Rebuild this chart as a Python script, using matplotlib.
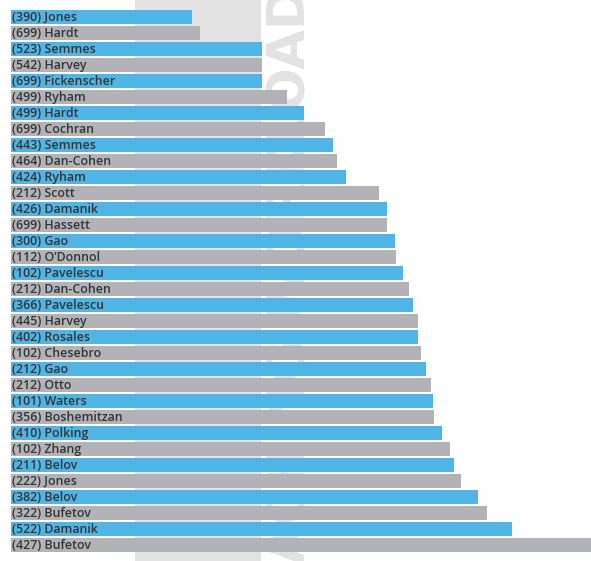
import numpy as np
import matplotlib
matplotlib.use("Agg")
from matplotlib import pyplot as plt
from matplotlib.patches import Rectangle

names = ["Jones", "Hardt", "Semmes", "Harvey", "Fickenscher", "Ryham", "Hardt",
         "Cochran", "Semmes", "Dan-Cohen", "Ryham", "Scott", "Damanik", "Hassett",
         "Gao", "O\u2019Donnol", "Pavelescu", "Dan-Cohen", "Pavelescu", "Harvey",
         "Rosales", "Chesebro", "Gao", "Otto", "Waters", "Boshemitzan", "Polking",
         "Zhang", "Belov", "Jones", "Belov", "Bufetov", "Damanik", "Bufetov"]
codes = [390, 699, 523, 542, 699, 499, 499, 699, 443, 464, 424, 212, 426, 699,
         300, 112, 102, 212, 366, 445, 402, 102, 212, 212, 101, 356, 410, 102,
         211, 222, 382, 322, 522, 427]
workload = [181, 189, 251, 251, 251, 276, 293, 314, 322, 326, 335, 368, 376, 376,
            384, 385, 392, 398, 402, 407, 407, 410, 415, 420, 422, 423, 431, 439,
            443, 450, 467, 476, 501, 590]

blue = "#4fb5e7"
grey = "#b2b3b7"
W, H = 591, 561

fig = plt.figure(figsize=(W / 100, H / 100), dpi=100)

# light background band with the rotated watermark
fig.add_artist(Rectangle((135 / W, 0), (261 - 135) / W, 1, transform=fig.transFigure,
                         facecolor="#e3e3e3", edgecolor="none", zorder=-2))
fig.text(291 / W, 1 + 14 / H, "TEACHING WORKLOAD", rotation=90, ha="center", va="top",
         fontsize=37, fontweight="bold", color="#e3e3e3", zorder=-1,
         family=["Liberation Sans Narrow", "DejaVu Sans"])

ax = fig.add_axes([11 / W, 8 / H, (W - 11) / W, (H - 8 - 9) / H])
ax.set_facecolor("none")
y = np.arange(len(names))
colors = [blue if i % 2 == 0 else grey for i in range(len(names))]
ax.barh(y, workload, height=0.87, color=colors, edgecolor="none")

for i in range(len(names)):
    ax.text(1.5, y[i] + 0.03, "(%d) %s" % (codes[i], names[i]), va="center", ha="left",
            fontsize=8.9, fontweight="semibold", color="#353535", family="Open Sans")

ax.set_xlim(0, 580)
ax.set_ylim(len(names) - 0.5, -0.5)
ax.axis("off")

fig.savefig("out.png", dpi=100)
